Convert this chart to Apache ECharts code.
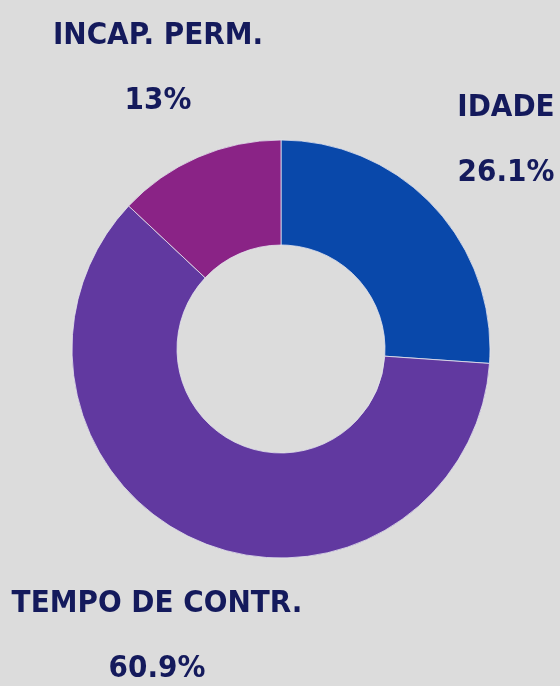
<!DOCTYPE html>
<html>
<head>
<meta charset="utf-8">
<script src="https://cdn.jsdelivr.net/npm/echarts@6/dist/echarts.min.js"></script>
<style>
html,body{margin:0;padding:0;background:#dcdcdc;}
#c{width:560px;height:686px;}
</style>
</head>
<body>
<div id="c"></div>
<script>
const categories = ['IDADE', 'TEMPO DE CONTR.', 'INCAP. PERM.'];
const values = [26.1, 60.9, 13];
const valueLabels = ['26.1%', '60.9%', '13%'];
const colors = ['#0948aa', '#6139a0', '#8a2386'];
const labelSpots = [[506, 140], [157, 636], [158, 68]];

const chart = echarts.init(document.getElementById('c'));
chart.setOption({
  backgroundColor: '#dcdcdc',
  animation: false,
  series: [{
    type: 'pie',
    center: [281, 349],
    radius: [104, 209],
    startAngle: 90,
    clockwise: true,
    avoidLabelOverlap: false,
    itemStyle: { borderColor: '#e4e4ee', borderWidth: 0.8 },
    label: {
      show: true,
      position: 'outside',
      formatter: function (p) { return p.name + '\n' + valueLabels[p.dataIndex]; },
      color: '#141a5c',
      fontFamily: '"DejaVu Sans Condensed", "Liberation Sans Narrow", sans-serif',
      fontWeight: 'bold',
      fontSize: 31,
      lineHeight: 65,
      align: 'center',
      verticalAlign: 'middle'
    },
    labelLine: { show: false },
    labelLayout: function (params) {
      const s = labelSpots[params.dataIndex];
      return { x: s[0], y: s[1], align: 'center', verticalAlign: 'middle' };
    },
    data: categories.map((n, i) => ({ name: n, value: values[i], itemStyle: { color: colors[i] } }))
  }]
});
</script>
</body>
</html>
